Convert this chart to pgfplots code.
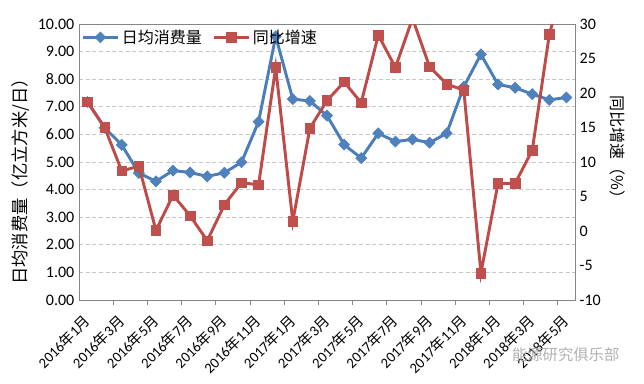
\documentclass[border=0pt]{standalone}
\usepackage{fontspec}
\setmainfont{Carlito}
\newfontfamily\cjk{Noto Sans CJK SC}
\usepackage{pgfplots}
\pgfplotsset{compat=1.18}
\definecolor{bline}{RGB}{74,126,187}
\definecolor{bmark}{RGB}{79,129,189}
\definecolor{rline}{RGB}{190,75,72}
\definecolor{rmark}{RGB}{192,80,77}
\definecolor{frame}{RGB}{134,134,134}
\newcommand\ym[2]{#1{\cjk 年}#2{\cjk 月}}
\begin{document}
\begin{tikzpicture}
\pgfplotsset{
  base/.style={
    width=372pt, height=207pt, scale only axis,
    xmin=-0.5, xmax=28.5,
    /pgf/number format/assume math mode=true,
    tick label style={font=\fontsize{12}{14}\selectfont},
  }
}
\begin{axis}[base, name=ax,
  ymin=0, ymax=10, ytick={0,1,...,10},
  yticklabel style={/pgf/number format/.cd, fixed, fixed zerofill, precision=2},
  ytick pos=left, major tick length=0pt,
  xtick={0,2,...,28},
  xticklabels={\ym{2016}{1},\ym{2016}{3},\ym{2016}{5},\ym{2016}{7},\ym{2016}{9},\ym{2016}{11},\ym{2017}{1},\ym{2017}{3},\ym{2017}{5},\ym{2017}{7},\ym{2017}{9},\ym{2017}{11},\ym{2018}{1},\ym{2018}{3},\ym{2018}{5}},
  xticklabel style={font=\fontsize{11}{12}\selectfont, rotate=45, anchor=east, yshift=-9.5pt, xshift=-9.5pt, inner sep=0pt},
  extra x ticks={1.5,3.5,...,27.5},
  extra x tick labels={},
  extra x tick style={major tick length=4pt, tick align=outside, xtick pos=bottom, tick style={frame, line width=0.6pt}, grid=none},
  ymajorgrids, grid style={gray!45, dash pattern=on 3pt off 2pt, line width=0.5pt},
  axis line style={frame, line width=0.7pt},
  ylabel={\cjk 日均消费量（亿立方米/日）},
  ylabel style={font=\fontsize{13}{15}\selectfont, at={(axis description cs:-0.118,0.444)}, anchor=center},
]
\addplot[bline, line width=2.2pt, mark=square*, mark size=2.9pt, mark options={rotate=45, fill=bmark, draw=bmark, line width=0.5pt}] coordinates {
(0,7.17) (1,6.24) (2,5.62) (3,4.60) (4,4.30) (5,4.69) (6,4.62) (7,4.48) (8,4.61) (9,4.99)
(10,6.46) (11,9.55) (12,7.28) (13,7.21) (14,6.68) (15,5.63) (16,5.14) (17,6.04) (18,5.74) (19,5.82)
(20,5.70) (21,6.04) (22,7.73) (23,8.90) (24,7.81) (25,7.69) (26,7.46) (27,7.25) (28,7.34)
};
\end{axis}
\begin{axis}[base,
  ymin=-10, ymax=30, ytick={-10,-5,...,30},
  axis y line*=right, axis x line=none,
  major tick length=0pt,
  axis line style={frame, line width=0.7pt},
  ylabel={\cjk 同比增速（\%）},
  ylabel style={font=\fontsize{12}{14}\selectfont, at={(axis description cs:1.086,0.54)}, anchor=center, rotate=180},
  legend style={at={(axis description cs:0.002,0.995)}, anchor=north west, draw=none, fill=none,
    legend columns=2, font=\fontsize{12}{14}\selectfont\cjk,
    /tikz/every even column/.append style={column sep=6pt},
    legend cell align=left, inner sep=1pt},
  legend image code/.code={\draw[mark repeat=2, mark phase=2, #1] plot coordinates {(0pt,0pt) (13pt,0pt) (26pt,0pt)};},
]
\addlegendimage{bline, line width=2.2pt, mark=square*, mark size=2.9pt, mark options={rotate=45, fill=bmark, draw=bmark, line width=0.5pt}}
\addlegendentry{日均消费量}
\addplot[rline, line width=2.2pt, mark=square*, mark size=3.6pt, mark options={fill=rmark, draw=rmark, line width=0.5pt}] coordinates {
(0,18.7) (1,15.0) (2,8.7) (3,9.4) (4,0.1) (5,5.2) (6,2.2) (7,-1.4) (8,3.8) (9,7.0)
(10,6.7) (11,23.7) (12,1.4) (13,14.9) (14,18.9) (15,21.6) (16,18.6) (17,28.4) (18,23.7) (19,30.8)
(20,23.8) (21,21.3) (22,20.4) (23,-6.1) (24,6.9) (25,6.9) (26,11.7) (27,28.5) (28,37.5)
};
\addlegendentry{同比增速}
\end{axis}
\node[text=gray!60, font=\fontsize{11.5}{13}\selectfont\cjk, anchor=center] at ([xshift=365pt, yshift=-41pt]ax.south west) {能源研究俱乐部};
\pgfresetboundingbox
\path[use as bounding box] ([xshift=-59.25pt, yshift=-62.25pt]ax.south west) rectangle ++(483pt,287.25pt);
\end{tikzpicture}
\end{document}
